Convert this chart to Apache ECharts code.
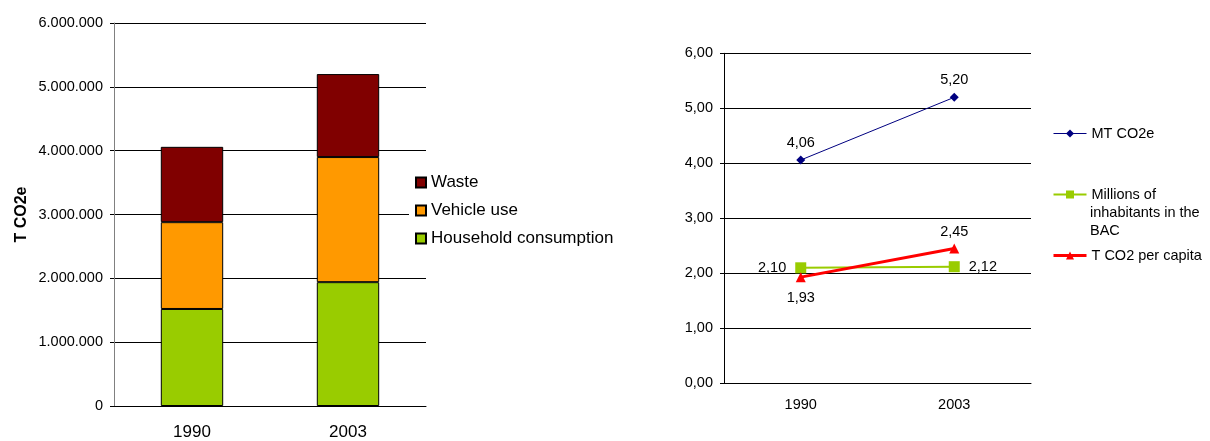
<!DOCTYPE html>
<html>
<head>
<meta charset="utf-8">
<script src="https://cdn.jsdelivr.net/npm/echarts@6/dist/echarts.min.js"></script>
<style>
  html, body { margin: 0; padding: 0; background: #fff; }
  #chart { width: 1210px; height: 441px; }
</style>
</head>
<body>
<div id="chart"></div>
<script>
// Emissions by source (tonnes CO2e)
const years = ['1990', '2003'];
const household = [1520000, 1940000];
const vehicle = [1360000, 1960000];
const waste = [1180000, 1300000];

// Indicators
const mtCO2e = [4.06, 5.20];
const inhabitants = [2.10, 2.12];
const perCapita = [1.93, 2.45];

const FONT = "'Liberation Sans', Arial, sans-serif";

const dotThousands = v => String(Math.round(v)).replace(/\B(?=(\d{3})+(?!\d))/g, '.');
const comma2 = v => Number(v).toFixed(2).replace('.', ',');

const chart = echarts.init(document.getElementById('chart'), null, { renderer: 'canvas' });

const barStyle = color => ({ color: color, borderColor: '#000', borderWidth: 1 });

const valueLabel = extra => Object.assign({
  show: true, color: '#000', fontSize: 14.5, fontFamily: FONT,
  formatter: p => comma2(p.value)
}, extra);

chart.setOption({
  animation: false,
  backgroundColor: '#fff',
  textStyle: { fontFamily: FONT },
  grid: [
    { left: 114, top: 23, width: 312, height: 385 },
    { left: 724, top: 53.3, width: 307, height: 330 }
  ],
  xAxis: [
    {
      gridIndex: 0, type: 'category', data: years,
      axisLine: { lineStyle: { color: '#000', width: 1 } },
      axisTick: { length: 5, lineStyle: { color: '#000' } },
      axisLabel: { color: '#000', fontSize: 17, margin: 18, fontFamily: FONT }
    },
    {
      gridIndex: 1, type: 'category', data: years,
      axisLine: { lineStyle: { color: '#000', width: 1 } },
      axisTick: { length: 5, lineStyle: { color: '#000' } },
      axisLabel: { color: '#000', fontSize: 14.5, margin: 14, fontFamily: FONT }
    }
  ],
  yAxis: [
    {
      gridIndex: 0, type: 'value', min: 0, max: 6000000, interval: 1000000,
      name: 'T CO2e', nameLocation: 'middle', nameGap: 84, nameRotate: 90,
      nameTextStyle: { color: '#000', fontSize: 16, fontWeight: 'bold', fontFamily: FONT },
      axisLine: { show: true, lineStyle: { color: '#808080', width: 1 } },
      axisTick: { show: true, length: 4, lineStyle: { color: '#000' } },
      axisLabel: { color: '#000', fontSize: 14.5, margin: 11, formatter: dotThousands, fontFamily: FONT },
      splitLine: { show: true, lineStyle: { color: '#000', width: 1 } }
    },
    {
      gridIndex: 1, type: 'value', min: 0, max: 6, interval: 1,
      axisLine: { show: true, lineStyle: { color: '#000', width: 1 } },
      axisTick: { show: true, length: 4, lineStyle: { color: '#000' } },
      axisLabel: { color: '#000', fontSize: 14.5, margin: 11, formatter: comma2, fontFamily: FONT },
      splitLine: { show: true, lineStyle: { color: '#000', width: 1 } }
    }
  ],
  legend: [
    {
      data: ['Waste', 'Vehicle use', 'Household consumption'],
      icon: 'rect',
      orient: 'vertical', left: 409, top: 169,
      padding: [5, 6, 5, 6],
      backgroundColor: '#fff',
      itemWidth: 10, itemHeight: 10, itemGap: 11,
      textStyle: { color: '#000', fontSize: 17, lineHeight: 17, fontFamily: FONT }
    },
    {
      data: ['MT CO2e', 'Millions of inhabitants in the BAC', 'T CO2 per capita'],
      orient: 'vertical', left: 1047, top: 121,
      itemWidth: 33, itemHeight: 10, itemGap: 46,
      lineStyle: { width: 'inherit' },
      formatter: name => name.startsWith('Millions') ? 'Millions of' : name,
      textStyle: { color: '#000', fontSize: 14.5, lineHeight: 15, fontFamily: FONT }
    }
  ],
  graphic: [
    {
      type: 'text', left: 1090, top: 204,
      style: {
        text: 'inhabitants in the\nBAC', fill: '#000',
        font: '14.5px ' + FONT, lineHeight: 18
      }
    }
  ],
  series: [
    {
      name: 'Household consumption', type: 'bar', stack: 'total',
      xAxisIndex: 0, yAxisIndex: 0, barWidth: '40%',
      data: household, itemStyle: barStyle('#99CC00')
    },
    {
      name: 'Vehicle use', type: 'bar', stack: 'total',
      xAxisIndex: 0, yAxisIndex: 0, barWidth: '40%',
      data: vehicle, itemStyle: barStyle('#FF9900')
    },
    {
      name: 'Waste', type: 'bar', stack: 'total',
      xAxisIndex: 0, yAxisIndex: 0, barWidth: '40%',
      data: waste, itemStyle: barStyle('#800000')
    },
    {
      name: 'MT CO2e', type: 'line', xAxisIndex: 1, yAxisIndex: 1,
      data: mtCO2e,
      symbol: 'diamond', symbolSize: 9,
      lineStyle: { color: '#000080', width: 1 },
      itemStyle: { color: '#000080' },
      label: valueLabel({ position: 'top', distance: 5 })
    },
    {
      name: 'Millions of inhabitants in the BAC', type: 'line', xAxisIndex: 1, yAxisIndex: 1,
      // first value labelled on the left, second on the right
      data: inhabitants.map((v, i) => i === 0 ? v : { value: v, label: { position: 'right' } }),
      symbol: 'rect', symbolSize: 11,
      lineStyle: { color: '#99CC00', width: 2 },
      itemStyle: { color: '#99CC00' },
      label: valueLabel({ position: 'left', distance: 9 })
    },
    {
      name: 'T CO2 per capita', type: 'line', xAxisIndex: 1, yAxisIndex: 1,
      // first value labelled below, second above
      data: perCapita.map((v, i) => i === 0 ? { value: v, label: { position: 'bottom', distance: 8 } } : v),
      symbol: 'triangle', symbolSize: 10,
      lineStyle: { color: '#FF0000', width: 3 },
      itemStyle: { color: '#FF0000' },
      label: valueLabel({ position: 'top', distance: 4 })
    }
  ]
});
</script>
</body>
</html>
